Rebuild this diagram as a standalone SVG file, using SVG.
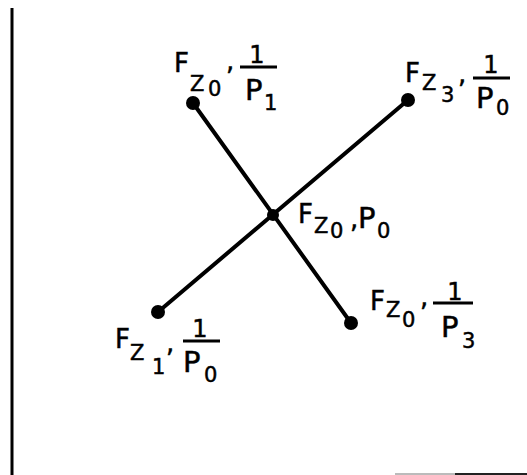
<svg xmlns="http://www.w3.org/2000/svg" width="527" height="475" viewBox="0 0 527 475">
<style>
text{font-family:"DejaVu Sans","Liberation Sans",sans-serif;fill:#000;stroke:#000;stroke-width:0.5}
.F{font-size:26px}
.s{font-size:21px}
.one{font-size:24px;text-anchor:middle}
.P{font-size:29px}
.c{font-size:26px}
.bar{stroke:#000;stroke-width:3}
.edge{stroke:#000;stroke-width:4;stroke-linecap:round}
.dot{fill:#000}
</style>
<rect width="527" height="475" fill="#fff"/>
<g id="frame">
<line x1="12" y1="8" x2="12" y2="475" stroke="#000" stroke-width="3"/>
<line x1="395" y1="474" x2="455" y2="474" stroke="#bbb" stroke-width="2"/>
<line x1="455" y1="474" x2="527" y2="474" stroke="#222" stroke-width="2"/>
</g>
<g id="connectors">
<line class="edge" x1="193" y1="103" x2="351" y2="323"/>
<line class="edge" x1="158" y1="312" x2="408" y2="100"/>
</g>
<g id="node-tl">
<circle class="dot" cx="193" cy="103" r="7"/>
<text class="F" x="174" y="72">F</text>
<text class="s" x="190" y="91">Z</text>
<text class="s" x="208" y="96">0</text>
<text class="c" x="226" y="70">,</text>
<line class="bar" x1="240" y1="67" x2="277" y2="67"/>
<text class="one" x="257" y="63">1</text>
<text class="P" x="245" y="100">P</text>
<text class="s" x="264" y="110">1</text>
</g>
<g id="node-tr">
<circle class="dot" cx="408" cy="100" r="7"/>
<text class="F" x="405" y="82">F</text>
<text class="s" x="422" y="90">Z</text>
<text class="s" x="441" y="102">3</text>
<text class="c" x="458" y="83">,</text>
<line class="bar" x1="473" y1="78" x2="510" y2="78"/>
<text class="one" x="491" y="73">1</text>
<text class="P" x="476" y="108">P</text>
<text class="s" x="496" y="115">0</text>
</g>
<g id="node-c">
<circle class="dot" cx="273" cy="215" r="6"/>
<text class="F" x="298" y="223">F</text>
<text class="s" x="314" y="233">Z</text>
<text class="s" x="330" y="238">0</text>
<text class="c" x="350" y="228">,</text>
<text class="P" x="358" y="228">P</text>
<text class="s" x="377" y="238">0</text>
</g>
<g id="node-bl">
<circle class="dot" cx="158" cy="312" r="7"/>
<text class="F" x="115" y="348">F</text>
<text class="s" x="130" y="360">Z</text>
<text class="s" x="152" y="374">1</text>
<text class="c" x="166" y="352">,</text>
<line class="bar" x1="183" y1="341" x2="220" y2="341"/>
<text class="one" x="200" y="337">1</text>
<text class="P" x="183" y="372">P</text>
<text class="s" x="204" y="382">0</text>
</g>
<g id="node-br">
<circle class="dot" cx="351" cy="323" r="7"/>
<text class="F" x="370" y="310">F</text>
<text class="s" x="386" y="317">Z</text>
<text class="s" x="402" y="327">0</text>
<text class="c" x="420" y="306">,</text>
<line class="bar" x1="433" y1="303" x2="473" y2="303"/>
<text class="one" x="455" y="300">1</text>
<text class="P" x="441" y="337">P</text>
<text class="s" x="462" y="348">3</text>
</g>
</svg>
